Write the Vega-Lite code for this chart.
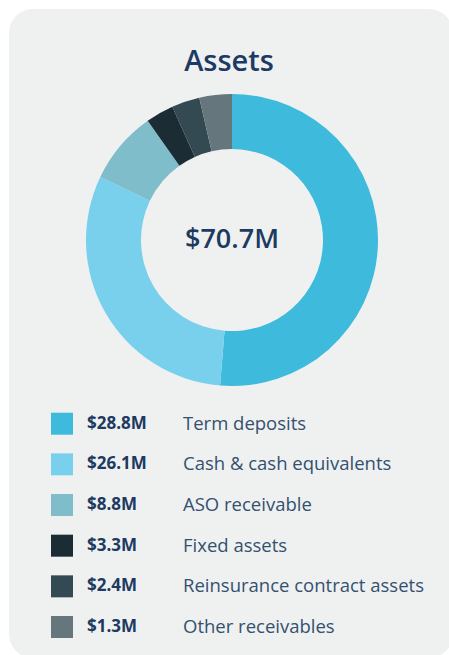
{
  "$schema": "https://vega.github.io/schema/vega-lite/v6.json",
  "width": 449,
  "height": 655,
  "autosize": {"type": "fit", "contains": "padding"},
  "padding": {"left": 9, "top": 9, "right": -4, "bottom": -3},
  "background": "#ffffff",
  "config": {
    "view": {"fill": "#eff1f1", "stroke": null, "cornerRadius": 24},
    "font": "Open Sans"
  },
  "data": {
    "values": [
      {"category": "Term deposits", "label": "$28.8M", "amount": 28.8, "share": 51.3, "order": 1},
      {"category": "Cash & cash equivalents", "label": "$26.1M", "amount": 26.1, "share": 30.8, "order": 2},
      {"category": "ASO receivable", "label": "$8.8M", "amount": 8.8, "share": 8.1, "order": 3},
      {"category": "Fixed assets", "label": "$3.3M", "amount": 3.3, "share": 3.1, "order": 4},
      {"category": "Reinsurance contract assets", "label": "$2.4M", "amount": 2.4, "share": 3.1, "order": 5},
      {"category": "Other receivables", "label": "$1.3M", "amount": 1.3, "share": 3.6, "order": 6}
    ]
  },
  "layer": [
    {
      "data": {"values": [{"title": "Assets"}]},
      "mark": {"type": "text", "fontSize": 29, "fontWeight": 600, "color": "#1d3a62", "baseline": "alphabetic", "align": "center", "x": {"expr": "width / 2 - 2"}, "y": 62},
      "encoding": {"text": {"field": "title", "type": "nominal"}}
    },
    {
      "mark": {"type": "arc", "innerRadius": 91, "outerRadius": 146, "x": {"expr": "width / 2 + 1"}, "y": {"expr": "height * 0.356"}},
      "encoding": {
        "theta": {"field": "share", "type": "quantitative", "stack": true},
        "order": {"field": "order", "type": "quantitative"},
        "color": {
          "field": "category",
          "type": "nominal",
          "scale": {
            "domain": ["Term deposits", "Cash & cash equivalents", "ASO receivable", "Fixed assets", "Reinsurance contract assets", "Other receivables"],
            "range": ["#3dbadc", "#78d0ec", "#80bdca", "#1b2c35", "#344a52", "#66767d"]
          },
          "legend": null
        }
      }
    },
    {
      "transform": [
        {"aggregate": [{"op": "sum", "field": "amount", "as": "total"}]},
        {"calculate": "'$' + format(datum.total, '.1f') + 'M'", "as": "totalLabel"}
      ],
      "mark": {"type": "text", "fontSize": 27, "fontWeight": 600, "color": "#1d3a62", "baseline": "middle", "align": "center", "x": {"expr": "width / 2 + 1"}, "y": {"expr": "height * 0.356"}},
      "encoding": {"text": {"field": "totalLabel", "type": "nominal"}}
    },
    {
      "mark": {"type": "square", "size": 484, "opacity": 1, "filled": true},
      "encoding": {
        "x": {"value": 53},
        "y": {"field": "category", "type": "nominal", "sort": {"field": "order"}, "scale": {"type": "point", "range": [414.7, 618], "padding": 0}, "axis": null},
        "color": {"field": "category", "type": "nominal", "legend": null}
      }
    },
    {
      "mark": {"type": "text", "align": "left", "baseline": "middle", "fontSize": 17, "fontWeight": "bold", "color": "#1d3a60"},
      "encoding": {
        "x": {"value": 78},
        "y": {"field": "category", "type": "nominal", "sort": {"field": "order"}, "axis": null},
        "text": {"field": "label", "type": "nominal"}
      }
    },
    {
      "mark": {"type": "text", "align": "left", "baseline": "middle", "fontSize": 18.5, "fontWeight": "normal", "color": "#34506f"},
      "encoding": {
        "x": {"value": 174},
        "y": {"field": "category", "type": "nominal", "sort": {"field": "order"}, "axis": null},
        "text": {"field": "category", "type": "nominal"}
      }
    }
  ]
}
